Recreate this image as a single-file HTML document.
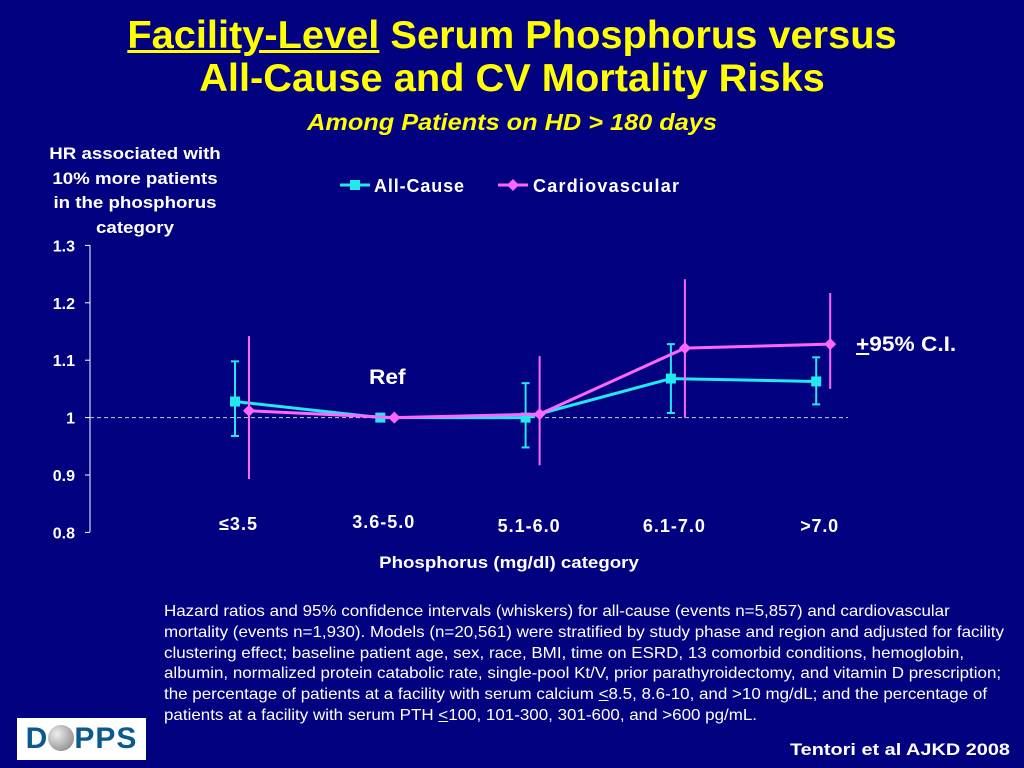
<!DOCTYPE html>
<html><head><meta charset="utf-8"><style>
body{margin:0;width:1024px;height:768px;background:#020280;overflow:hidden;font-family:"Liberation Sans",sans-serif;color:#fff;position:relative}
.t{position:absolute;font-weight:bold}
</style></head><body>
<div class="t" style="left:0;width:1024px;top:14px;text-align:center;color:#ffff00;font-size:39px;line-height:43px;transform:scaleX(1.02)"><span style="text-decoration:underline">Facility-Level</span> Serum Phosphorus versus<br>All-Cause and CV Mortality Risks</div>
<div class="t" style="left:0;width:1024px;top:109px;text-align:center;color:#ffff00;font-size:23px;font-style:italic;transform:scaleX(1.1)">Among Patients on HD &gt; 180 days</div>
<div class="t" style="left:30px;width:210px;top:142px;text-align:center;font-size:17px;line-height:24.5px;transform:scaleX(1.1)">HR associated with<br>10% more patients<br>in the phosphorus<br>category</div>
<svg id="chart" width="1024" height="600" style="position:absolute;left:0;top:0"></svg>
<div class="t" style="left:856px;top:333px;font-size:21px;transform:scaleX(1.08);transform-origin:left"><u>+</u>95% C.I.</div>
<div class="t" style="left:369px;top:366px;font-size:21px;transform:scaleX(1.08);transform-origin:left">Ref</div>
<div class="t" style="left:0;width:1018px;top:553px;text-align:center;font-size:17px;transform:scaleX(1.1)">Phosphorus (mg/dl) category</div>
<div style="position:absolute;left:164px;top:602px;white-space:nowrap;font-size:16px;line-height:20.8px;transform:scaleX(1.06);transform-origin:left">Hazard ratios and 95% confidence intervals (whiskers) for all-cause (events n=5,857) and cardiovascular<br>mortality (events n=1,930). Models (n=20,561) were stratified by study phase and region and adjusted for facility<br>clustering effect; baseline patient age, sex, race, BMI, time on ESRD, 13 comorbid conditions, hemoglobin,<br>albumin, normalized protein catabolic rate, single-pool Kt/V, prior parathyroidectomy, and vitamin D prescription;<br>the percentage of patients at a facility with serum calcium <u>&lt;</u>8.5, 8.6-10, and &gt;10 mg/dL; and the percentage of<br>patients at a facility with serum PTH <u>&lt;</u>100, 101-300, 301-600, and &gt;600 pg/mL.</div>
<div style="position:absolute;left:17px;top:718px;width:129px;height:42px;background:#fff;font-weight:bold;font-size:30px;color:#0a5a8c;line-height:42px;text-align:center;letter-spacing:1px">D<span style="display:inline-block;width:26px;height:26px;border-radius:50%;background:radial-gradient(circle at 35% 35%,#eee,#777);vertical-align:-3px"></span>PPS</div>
<div class="t" style="left:790px;top:740px;font-size:17px;transform:scaleX(1.17);transform-origin:left">Tentori et al AJKD 2008</div>
<script>
const categories=["≤3.5","3.6-5.0","5.1-6.0","6.1-7.0",">7.0"];
const allCause=[1.028,1.0,1.0,1.068,1.063];
const allLo=[0.968,null,0.948,1.008,1.023];
const allHi=[1.098,null,1.06,1.128,1.105];
const cardio=[1.012,1.0,1.006,1.121,1.128];
const cvLo=[0.893,null,0.917,1.0,1.05];
const cvHi=[1.142,null,1.107,1.241,1.217];
const yTicks=[0.8,0.9,1,1.1,1.2,1.3];
const svg=document.getElementById('chart');
const NS='http://www.w3.org/2000/svg';
const y=v=>417.6-(v-1)*574;
const x=(i,off)=>235+i*145.3+off;
function mk(t,a){const e=document.createElementNS(NS,t);for(const k in a)e.setAttribute(k,a[k]);svg.appendChild(e);return e;}
let ax=mk('line',{x1:90,y1:245,x2:90,y2:532,stroke:'#fff','stroke-width':1});


yTicks.forEach(v=>{mk('line',{x1:85,x2:90,y1:y(v),y2:y(v),stroke:'#fff'});
 const t=mk('text',{x:75,y:y(v)+6,'text-anchor':'end',fill:'#fff','font-size':16,'font-weight':'bold','font-family':'Liberation Sans'});t.textContent=v;
 
 });
mk('line',{x1:90,x2:848,y1:y(1),y2:y(1),stroke:'#ccc','stroke-dasharray':'4,3'});
const xlY=[530,528,532,532,532];
categories.forEach((c,i)=>{const t=mk('text',{x:x(i,3),y:xlY[i],'text-anchor':'middle',fill:'#fff','font-size':18,'font-weight':'bold','font-family':'Liberation Sans','textLength':[38,62,62,62,38][i]});t.textContent=c;
 
 });
function series(vals,lo,hi,off,col,shape,name){
 vals.forEach((v,i)=>{if(lo[i]!=null){const e=mk('line',{x1:x(i,off),x2:x(i,off),y1:y(lo[i]),y2:y(hi[i]),stroke:col,'stroke-width':2});
  
  
  if(shape=='sq'){mk('line',{x1:x(i,off)-4,x2:x(i,off)+4,y1:y(lo[i]),y2:y(lo[i]),stroke:col,'stroke-width':2});mk('line',{x1:x(i,off)-4,x2:x(i,off)+4,y1:y(hi[i]),y2:y(hi[i]),stroke:col,'stroke-width':2});}}});
 const p=mk('polyline',{points:vals.map((v,i)=>x(i,off)+','+y(v)).join(' '),fill:'none',stroke:col,'stroke-width':3});
 
 
 vals.forEach((v,i)=>{const cx=x(i,off),cy=y(v);let m;
  if(shape=='sq')m=mk('rect',{x:cx-5,y:cy-5,width:10,height:10,fill:col});
  else m=mk('polygon',{points:`${cx},${cy-6} ${cx+6},${cy} ${cx},${cy+6} ${cx-6},${cy}`,fill:col});
  
  });
}
series(allCause,allLo,allHi,0,'#22e8f0','sq','all-cause');
series(cardio,cvLo,cvHi,14,'#ff66ff','di','cardiovascular');
mk('line',{x1:340,x2:370,y1:185,y2:185,stroke:'#22e8f0','stroke-width':3});
let l1=mk('rect',{x:350,y:180,width:10,height:10,fill:'#22e8f0'});


let t1=mk('text',{x:374,y:192,fill:'#fff','font-size':18,'font-weight':'bold','font-family':'Liberation Sans','textLength':90});t1.textContent='All-Cause';
mk('line',{x1:498,x2:528,y1:185,y2:185,stroke:'#ff66ff','stroke-width':3});
let l2=mk('polygon',{points:'513,179 519,185 513,191 507,185',fill:'#ff66ff'});


let t2=mk('text',{x:533,y:192,fill:'#fff','font-size':18,'font-weight':'bold','font-family':'Liberation Sans','textLength':146});t2.textContent='Cardiovascular';
</script>
</body></html>
